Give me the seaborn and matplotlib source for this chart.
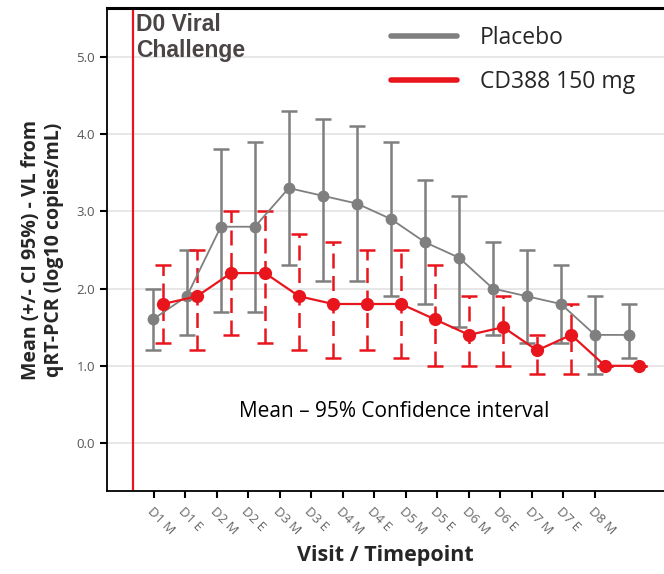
"""
Viral load by visit: Placebo vs CD388 150 mg.
"""
import numpy as np
import pandas as pd
import matplotlib
matplotlib.use('Agg')
import matplotlib.pyplot as plt
import seaborn as sns
from matplotlib.lines import Line2D

# Data
visits = ['D1 M', 'D1 E', 'D2 M', 'D2 E', 'D3 M', 'D3 E', 'D4 M', 'D4 E',
          'D5 M', 'D5 E', 'D6 M', 'D6 E', 'D7 M', 'D7 E', 'D8 M']
placebo_mean = [1.6, 1.9, 2.8, 2.8, 3.3, 3.2, 3.1, 2.9, 2.6, 2.4, 2.0, 1.9, 1.8, 1.4, 1.4]
placebo_lo = [1.2, 1.4, 1.7, 1.7, 2.3, 2.1, 2.1, 1.9, 1.8, 1.5, 1.4, 1.3, 1.3, 0.9, 1.1]
placebo_hi = [2.0, 2.5, 3.8, 3.9, 4.3, 4.2, 4.1, 3.9, 3.4, 3.2, 2.6, 2.5, 2.3, 1.9, 1.8]
cd388_mean = [1.8, 1.9, 2.2, 2.2, 1.9, 1.8, 1.8, 1.8, 1.6, 1.4, 1.5, 1.2, 1.4, 1.0, 1.0]
cd388_lo = [1.3, 1.2, 1.4, 1.3, 1.2, 1.1, 1.2, 1.1, 1.0, 1.0, 1.0, 0.9, 0.9, 1.0, 1.0]
cd388_hi = [2.3, 2.5, 3.0, 3.0, 2.7, 2.6, 2.5, 2.5, 2.3, 1.9, 1.9, 1.4, 1.8, 1.0, 1.0]

GRAY = '#7f7f7f'
RED = '#e8151d'
TEXT = '#4a4444'


def main():
    sns.set_theme(style="white")
    plt.rcParams['font.family'] = ['Open Sans', 'DejaVu Sans']

    fig = plt.figure(figsize=(6.64, 5.74), dpi=100)
    ax = fig.add_axes([0.161, 0.1446, 0.839, 0.8414])

    pos = np.arange(len(visits))
    offset = 0.3
    df = pd.DataFrame({
        'pos': np.concatenate([pos, pos + offset]),
        'mean': placebo_mean + cd388_mean,
        'group': ['Placebo'] * len(visits) + ['CD388 150 mg'] * len(visits),
    })

    # CI bars
    p_err = [np.array(placebo_mean) - np.array(placebo_lo),
             np.array(placebo_hi) - np.array(placebo_mean)]
    c_err = [np.array(cd388_mean) - np.array(cd388_lo),
             np.array(cd388_hi) - np.array(cd388_mean)]
    ax.errorbar(pos, placebo_mean, yerr=p_err, fmt='none', ecolor=GRAY,
                elinewidth=1.8, capsize=6, capthick=1.8, zorder=2)
    eb2 = ax.errorbar(pos + offset, cd388_mean, yerr=c_err, fmt='none', ecolor=RED,
                      elinewidth=1.8, capsize=6, capthick=1.8, zorder=3)
    eb2[2][0].set_linestyle((0, (6, 3)))

    # means
    sns.lineplot(data=df[df.group == 'Placebo'], x='pos', y='mean', color=GRAY,
                 marker='o', markersize=8.5, markeredgewidth=0, linewidth=1.3,
                 ax=ax, zorder=4, legend=False)
    sns.lineplot(data=df[df.group == 'CD388 150 mg'], x='pos', y='mean', color=RED,
                 marker='o', markersize=9.5, markeredgewidth=0, linewidth=1.6,
                 ax=ax, zorder=5, legend=False)

    # D0 viral challenge
    ax.axvline(-0.59, color=RED, linewidth=1.6, zorder=1)
    ax.text(-0.5, 5.57, 'D0 Viral\nChallenge', fontsize=16.5, fontweight='bold',
            color=TEXT, va='top', ha='left', family=['Liberation Sans', 'DejaVu Sans'],
            linespacing=1.2)

    ax.text(7.1, 0.41, 'Mean \u2013 95% Confidence interval', fontsize=15,
            color='black', ha='center', va='center')

    handles = [Line2D([], [], color=GRAY, linewidth=4),
               Line2D([], [], color=RED, linewidth=4)]
    ax.legend(handles, ['Placebo', 'CD388 150 mg'], loc='upper right',
              bbox_to_anchor=(0.985, 1.005), frameon=False, fontsize=16.5,
              handlelength=2.9, handletextpad=1.0, labelspacing=0.85)

    ax.set_xlim(-1.35, 15.03)
    ax.set_ylim(-0.62, 5.63)
    ax.set_yticks([0, 1, 2, 3, 4, 5])
    ax.set_yticklabels(['0.0', '1.0', '2.0', '3.0', '4.0', '5.0'])
    ax.set_xticks(0.03 + 0.926 * pos)
    ax.set_xticklabels(visits, rotation=-45, ha='left', rotation_mode='anchor')
    ax.yaxis.grid(True, color='#e3e3e3', linewidth=1.2)
    ax.set_axisbelow(True)

    ax.tick_params(axis='both', which='both', direction='out', length=5, width=1.5,
                   color='black', labelcolor='#555555', labelsize=9.5,
                   left=True, bottom=True)
    ax.tick_params(axis='x', pad=5, labelcolor='#666666')

    for side in ['left', 'bottom', 'top']:
        ax.spines[side].set_color('black')
    ax.spines['left'].set_linewidth(1.3)
    ax.spines['bottom'].set_linewidth(1.3)
    ax.spines['top'].set_linewidth(2.2)
    ax.spines['right'].set_visible(False)

    ax.set_xlabel('Visit / Timepoint', fontsize=15.5, fontweight='bold', labelpad=6)
    ax.set_ylabel('Mean (+/- CI 95%) - VL from\nqRT-PCR (log10 copies/mL)',
                  fontsize=14, fontweight='bold', labelpad=9)

    fig.savefig('out.png', dpi=100)
    plt.close(fig)


if __name__ == "__main__":
    main()
